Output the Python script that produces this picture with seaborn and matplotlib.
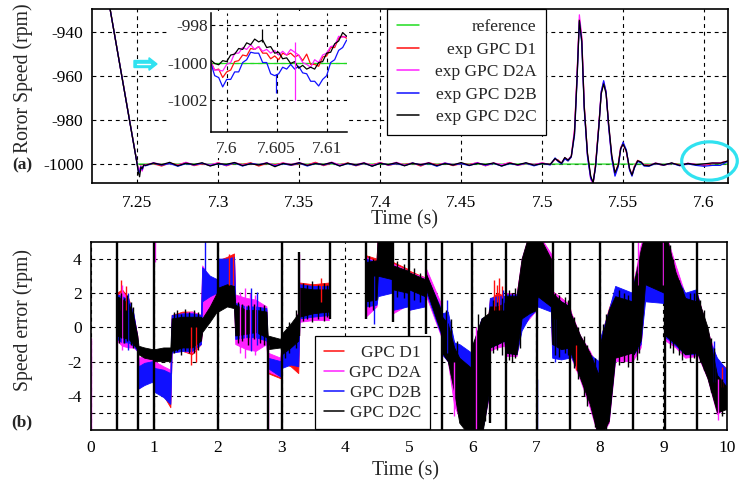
import numpy as np
import matplotlib
matplotlib.use("Agg")
import matplotlib.pyplot as plt
import seaborn as sns
from matplotlib.lines import Line2D
from matplotlib.patches import Rectangle, Ellipse, FancyArrow
from matplotlib.ticker import FuncFormatter

nan = float("nan")

# ---------------- (a) rotor speed around the -1000 rpm step ----------------
ref_t = [7.2222, 7.2500, 7.6146]
ref_speed = [-883.0, -1000.0, -1000.0]

t_a = [
    # ramp and settling
    7.2222, 7.2500, 7.2507, 7.2514, 7.2522, 7.2530, 7.2540,
    # steady state
    7.255, 7.260, 7.265, 7.270, 7.275, 7.280, 7.285, 7.290, 7.295, 7.300,
    7.305, 7.310, 7.315, 7.320, 7.325, 7.330, 7.335, 7.340, 7.345, 7.350,
    7.355, 7.360, 7.365, 7.370, 7.375, 7.380, 7.385, 7.390, 7.395, 7.400,
    7.405, 7.410, 7.415, 7.420, 7.425, 7.430, 7.435, 7.440, 7.445, 7.450,
    7.455, 7.460, 7.465, 7.470, 7.475, 7.480, 7.485, 7.490, 7.495, 7.500, 7.505,
    # load disturbance
    7.508, 7.510, 7.512, 7.514, 7.516, 7.518, 7.520, 7.5215, 7.523, 7.5245,
    7.526, 7.528, 7.530, 7.5315, 7.533, 7.535, 7.5365, 7.538, 7.5395, 7.541,
    7.543, 7.545, 7.547, 7.5485, 7.550, 7.552, 7.554, 7.5555, 7.557, 7.559,
    7.561, 7.563,
    # recovered
    7.566, 7.570, 7.575, 7.580, 7.585, 7.590, 7.595, 7.600, 7.605, 7.610, 7.6146,
]

speed_D1 = [
    -883.0, -1000.2, -1002.5, -1003.0, -1000.8, -1002.8, -1000.5,
    -1000.3, -999.8, -1000.9, -999.5, -1000.4, -999.3, -1000.7, -999.9, -1000.5, -999.4,
    -1000.8, -999.6, -1000.2, -999.4, -1000.9, -999.7, -1000.3, -999.5, -1000.6, -999.8,
    -1000.4, -999.2, -1000.7, -999.6, -1000.3, -999.5, -1000.8, -999.7, -1000.4, -999.3,
    -1000.6, -999.8, -1000.2, -999.5, -1000.9, -999.4, -1000.3, -999.6, -1000.7, -999.8,
    -1000.2, -999.4, -1000.8, -999.6, -1000.4, -999.3, -1000.6, -999.7, -1000.3, -999.5, -1000.2,
    -997.8, -998.2, -999.8, -997.4, -998.5, -996.8, -985.0, -961.0, -934.0, -943.0,
    -973.0, -995.5, -1006.0, -1008.5, -1000.0, -982.5, -967.5, -963.0, -967.0, -982.0,
    -996.5, -1004.5, -1000.0, -992.5, -990.5, -994.5, -1002.5, -1004.8, -1001.0, -998.3,
    -999.2, -1000.4,
    -1000.5, -999.8, -1000.6, -999.6, -1000.3, -999.9, -1000.2, -1000.6, -999.8, -999.5, -998.7,
]

speed_D2A = [
    -883.0, -1000.3, -1003.0, -1002.2, -1001.0, -1003.2, -1000.2,
    -1000.5, -999.4, -1000.2, -999.8, -1000.6, -999.2, -1000.4, -999.7, -1000.3, -999.5,
    -1000.6, -999.3, -1000.4, -999.8, -1000.2, -999.4, -1000.7, -999.5, -1000.1, -999.3,
    -1000.5, -999.6, -1000.3, -999.1, -1000.4, -999.7, -1000.2, -999.4, -1000.6, -999.5,
    -1000.3, -999.2, -1000.5, -999.7, -1000.1, -999.4, -1000.6, -999.5, -1000.2, -999.6,
    -1000.4, -999.3, -1000.7, -999.5, -1000.3, -999.4, -1000.5, -999.6, -1000.2, -999.5, -1000.3,
    -997.6, -998.8, -999.4, -997.2, -998.0, -996.3, -984.0, -960.0, -932.0, -942.0,
    -973.5, -996.0, -1007.0, -1009.0, -1000.5, -982.0, -967.0, -962.5, -967.5, -981.5,
    -997.0, -1005.0, -1000.8, -992.8, -990.8, -994.2, -1002.2, -1005.2, -1001.2, -998.6,
    -999.1, -1000.5,
    -1000.6, -999.5, -1000.3, -999.7, -1000.5, -999.6, -1000.1, -1000.2, -999.5, -999.4, -998.7,
]

speed_D2B = [
    -883.0, -1000.4, -1003.5, -1003.8, -1001.2, -1002.5, -1000.6,
    -1000.8, -999.6, -1000.5, -999.7, -1001.0, -999.8, -1000.4, -999.6, -1000.7, -999.9,
    -1000.5, -999.5, -1000.9, -999.7, -1000.3, -999.6, -1000.8, -999.9, -1000.5, -999.6,
    -1000.9, -999.7, -1000.4, -999.5, -1000.8, -999.8, -1000.6, -999.7, -1000.9, -999.6,
    -1000.4, -999.8, -1000.7, -999.5, -1000.5, -999.7, -1001.0, -999.6, -1000.4, -999.8,
    -1000.7, -999.6, -1000.5, -999.7, -1000.9, -999.8, -1000.4, -999.6, -1000.8, -999.7, -1000.4,
    -997.2, -998.9, -999.9, -997.6, -998.6, -996.8, -987.0, -963.0, -935.0, -945.0,
    -975.0, -996.5, -1006.5, -1008.2, -1001.5, -983.5, -967.0, -962.0, -967.2, -982.5,
    -997.5, -1005.5, -1001.2, -993.5, -990.0, -993.5, -1002.8, -1005.5, -1001.8, -998.8,
    -999.4, -1000.9,
    -1001.0, -999.8, -1000.5, -999.6, -1000.8, -999.9, -1000.6, -1001.0, -1000.6, -1000.6, -998.8,
]

speed_D2C = [
    -883.0, -1000.5, -1004.0, -1005.8, -1001.5, -1002.0, -1000.3,
    -1000.6, -999.5, -1000.3, -999.2, -1000.8, -999.6, -1000.2, -999.4, -1000.9, -999.8,
    -1000.1, -999.3, -1000.7, -999.9, -1000.4, -999.5, -1001.2, -999.7, -1000.3, -999.4,
    -1000.6, -999.8, -1000.2, -999.3, -1000.9, -999.6, -1000.4, -999.5, -1001.0, -999.7,
    -1000.2, -999.4, -1000.8, -999.6, -1000.3, -999.5, -1000.7, -999.8, -1000.4, -999.3,
    -1000.6, -999.7, -1000.2, -999.5, -1000.9, -999.6, -1000.3, -999.4, -1000.5, -999.8, -1000.1,
    -997.5, -998.6, -999.6, -997.0, -998.2, -996.5, -986.0, -962.0, -934.5, -944.0,
    -974.0, -995.0, -1005.5, -1008.5, -1001.0, -983.0, -968.0, -963.5, -968.0, -981.0,
    -996.0, -1004.0, -1000.5, -993.0, -991.0, -994.0, -1002.0, -1005.0, -1001.5, -998.5,
    -999.0, -1000.6,
    -1000.8, -999.6, -1000.4, -999.5, -1000.6, -999.7, -1000.3, -999.9, -999.5, -999.6, -998.6,
]

# zoomed window 7.598 - 7.612 s
t_zoom = [
    7.5984, 7.5988, 7.5992, 7.5996, 7.6000, 7.6004, 7.6008, 7.6012, 7.6016, 7.6020,
    7.6024, 7.6028, 7.6032, 7.6036, 7.6040, 7.6044, 7.6048, 7.6052, 7.6056, 7.6060,
    7.6064, 7.6068, 7.6072, 7.6076, 7.6080, 7.6084, 7.6088, 7.6092, 7.6096, 7.6100,
    7.6104, 7.6108, 7.6112, 7.6116, 7.6120,
]
zoom_ref = [-1000.0] * 35
zoom_D1 = [
    -999.95, -1000.4, -1000.35, -1000.8, -1000.5, -1000.4, -999.95, -999.9, -999.6, -999.65,
    -999.25, -999.3, -999.15, -999.5, -999.5, -999.8, -999.65, -999.85, -999.5, -999.6,
    -999.5, -999.7, -999.6, -999.9, -999.55, -1000.1, -1000.1, -1000.2, -999.7, -999.65,
    -999.2, -999.2, -998.7, -998.6, -998.7,
]
zoom_D2A = [
    -1000.0, -1000.4, -1000.4, -1000.45, -1000.1, -1000.0, -999.5, -999.5, -999.2, -999.3,
    -999.05, -999.3, -999.15, -999.4, -999.3, -999.5, -999.35, -999.6, -999.4, -999.6,
    -999.3, -999.45, -999.6, -1000.0, -1000.1, -1000.25, -999.85, -1000.0, -999.6, -999.5,
    -999.15, -999.1, -998.6, -998.65, -998.6,
]
zoom_D2B = [
    -1000.0, -1000.7, -1000.8, -1001.3, -1000.9, -1000.9, -1000.5, -1000.5, -1000.0, -999.85,
    -999.45, -999.5, -999.5, -1000.0, -1000.0, -1000.6, -1000.7, -1000.6, -1000.25, -1000.35,
    -1000.1, -1000.35, -1000.2, -1000.55, -1000.6, -1001.0, -1001.0, -1001.25, -1000.9, -1000.7,
    -1000.0, -999.85, -999.35, -999.2, -998.8,
]
zoom_D2C = [
    -999.86, -1000.05, -1000.12, -999.9, -999.95, -999.6, -999.55, -999.25, -999.3, -998.95,
    -999.05, -998.75, -998.9, -998.8, -999.2, -999.15, -999.5, -999.45, -999.8, -999.75,
    -1000.05, -999.95, -1000.3, -1000.15, -1000.35, -1000.25, -1000.35, -1000.0, -999.95, -999.5,
    -999.45, -999.0, -998.85, -998.4, -998.6,
]
# isolated samples in the zoomed window (time, low, high)
zoom_spike_D2A = ([7.6068], [-1002.0], [-998.9])
zoom_spike_D2B = ([7.6049], [-1001.65], [-1000.6])
zoom_spike_D2C = ([7.6035], [-998.9], [-998.2])

# ---------------- (b) speed error over the whole test ----------------
# envelope (min / max) of each error signal
t_err = [
    0.42, 0.50, 0.60, 0.68, 0.74,
    0.76, 0.85, 0.98,
    1.01, 1.15, 1.26,
    1.28, 1.45, 1.60, 1.74,
    1.76, 1.88, 1.99,
    2.01, 2.15, 2.26,
    2.28, 2.45, 2.60, 2.77,
    2.79, 2.99,
    3.01, 3.15, 3.27,
    3.29, 3.50, 3.75,
    4.00,
    4.33, 4.50, 4.52, 4.74,
    4.76, 4.99,
    5.01, 5.26,
    5.28, 5.51,
    5.53, 5.62, 5.72, 5.80, 5.99,
    6.01, 6.15, 6.26,
    6.28, 6.40, 6.51,
    6.53, 6.70, 6.78, 6.90, 7.01,
    7.03, 7.24,
    7.26, 7.40, 7.53,
    7.55, 7.70, 7.85, 7.99,
    8.01, 8.15, 8.25, 8.52,
    8.54, 8.65, 8.72, 9.02,
    9.04, 9.20, 9.35, 9.52,
    9.54, 9.70, 9.85, 10.0,
]

err_D2C_lo = [
    -0.5, -0.6, -0.7, -1.0, -1.3,
    -1.6, -1.8, -1.9,
    -2.0, -2.0, -2.0,
    -1.4, -1.2, -1.2, -0.8,
    -0.3, 0.3, 0.9,
    0.9, 1.2, 1.1,
    -0.5, -0.4, -0.3, -0.6,
    -1.3, -1.2,
    -1.6, -1.2, -0.8,
    0.6, 0.8, 0.9,
    nan,
    1.5, 1.6, 3.0, 2.8,
    2.2, 2.0,
    2.2, 1.8,
    2.2, -0.3,
    -1.5, -2.0, -3.8, -5.6, -6.5,
    -6.5, -6.5, -4.0,
    -1.2, -1.0, -0.8,
    -1.5, -1.6, 0.5, 0.8, 1.0,
    1.8, 1.2,
    -1.0, -1.3, -1.2,
    -1.5, -3.0, -4.5, -6.5,
    -6.5, -5.5, -1.8, -1.5,
    -1.6, -0.8, 2.5, 2.0,
    -0.5, -1.0, -1.6, -1.5,
    -1.5, -3.0, -5.0, -4.8,
]
err_D2C_hi = [
    1.8, 1.6, 1.4, 0.6, -0.5,
    -1.1, -1.2, -1.3,
    -1.3, -1.2, -1.2,
    0.5, 0.6, 0.6, 0.6,
    0.5, 1.2, 2.0,
    2.3, 2.5, 2.4,
    1.3, 1.0, 1.0, 0.9,
    -0.5, -0.7,
    -0.4, 0.2, 0.8,
    2.3, 2.2, 2.2,
    nan,
    3.8, 3.9, 5.5, 5.5,
    3.6, 3.3,
    3.2, 2.8,
    3.1, 1.0,
    0.6, 0.2, -1.2, -1.8, -2.4,
    -1.0, 0.5, 0.8,
    1.2, 1.2, 1.4,
    1.8, 1.8, 4.0, 5.5, 5.5,
    5.5, 4.0,
    2.0, 1.5, 1.2,
    0.8, -0.5, -1.5, -2.8,
    -1.0, 1.0, 1.8, 1.5,
    2.5, 4.5, 5.5, 5.5,
    5.5, 3.2, 1.7, 1.5,
    1.8, 0.0, -2.8, -3.5,
]

err_D2B_lo = [
    -0.7, -0.9, -0.9, -1.1, -1.4,
    -3.6, -3.4, -3.2,
    -3.8, -4.1, -4.5,
    -1.5, -1.4, -1.4, -1.0,
    1.5, 1.8, 2.0,
    2.2, 2.3, 2.2,
    -0.7, -0.6, -0.6, -0.8,
    -2.4, -2.9,
    -2.4, -2.2, -2.3,
    0.5, 0.6, 0.7,
    nan,
    1.2, 1.3, 1.8, 2.0,
    1.0, 1.2,
    1.0, 1.2,
    2.0, -0.4,
    -1.6, -2.0, -3.0, -3.2, -3.0,
    -6.5, -6.3, -4.0,
    -1.2, -1.0, -0.8,
    -1.5, -1.6, -0.2, 0.6, 1.0,
    1.2, 0.9,
    -1.8, -1.9, -1.8,
    -1.7, -2.8, -3.0, -3.3,
    -6.5, -5.3, -1.7, -1.5,
    -1.6, -1.0, 1.5, 1.4,
    -0.6, -1.1, -1.6, -1.6,
    -1.5, -2.8, -3.5, -4.0,
]
err_D2B_hi = [
    1.9, 1.8, 1.6, 0.8, -0.6,
    -2.3, -2.1, -2.0,
    -2.4, -2.5, -2.7,
    0.7, 0.8, 0.8, 0.7,
    3.5, 3.0, 2.8,
    4.0, 4.0, 4.1,
    1.4, 1.2, 1.2, 1.1,
    -1.8, -2.0,
    -1.0, -0.8, -0.6,
    2.5, 2.4, 2.4,
    nan,
    4.0, 3.8, 4.2, 4.5,
    2.6, 2.4,
    2.3, 2.0,
    3.0, 1.1,
    0.8, 0.9, -0.9, -1.0, -1.5,
    -1.1, 0.5, 0.7,
    1.7, 1.8, 1.8,
    1.9, 1.9, 3.0, 3.0, 3.0,
    2.4, 2.0,
    1.8, 1.5, 1.2,
    0.8, -0.9, -1.6, -2.0,
    -0.7, 1.0, 2.4, 2.0,
    2.6, 4.2, 3.0, 3.2,
    3.6, 3.0, 2.0, 2.2,
    1.9, -0.5, -1.8, -2.5,
]

err_D1_lo = [
    -0.6, -0.7, -0.8, -1.0, -1.3,
    -3.4, -3.2, -3.0,
    -3.6, -4.0, -4.7,
    -1.4, -1.4, -1.6, -1.0,
    0.2, 1.4, 1.8,
    1.8, 2.0, 1.8,
    -0.6, -0.5, -0.5, -0.7,
    -2.7, -3.0,
    -2.1, -2.3, -2.7,
    0.5, 0.5, 0.6,
    nan,
    1.3, 1.4, 2.6, 2.6,
    1.6, 1.7,
    1.4, 1.5,
    2.0, -0.4,
    -1.5, -2.0, -3.4, -3.5, -3.5,
    -6.5, -6.0, -3.8,
    -1.2, -1.0, -0.9,
    -1.5, -1.6, 0.3, 0.6, 1.0,
    1.4, 1.1,
    -1.4, -1.7, -1.8,
    -1.6, -2.8, -3.1, -3.4,
    -6.5, -5.3, -1.7, -1.7,
    -1.7, -1.0, 2.0, 1.8,
    -0.6, -1.1, -1.7, -1.6,
    -1.5, -2.9, -3.6, -3.5,
]
err_D1_hi = [
    2.0, 2.2, 1.7, 0.7, -0.5,
    -2.2, -2.0, -1.9,
    -2.2, -2.4, -2.6,
    0.7, 0.9, 0.9, 0.7,
    3.0, 2.8, 2.8,
    3.9, 4.1, 4.3,
    1.4, 1.2, 1.2, 1.0,
    -1.6, -1.9,
    -0.8, -0.5, -0.2,
    2.6, 2.5, 2.6,
    nan,
    4.2, 4.0, 5.5, 5.5,
    3.8, 3.4,
    3.3, 2.9,
    3.2, 1.2,
    0.7, 0.4, -1.0, -1.3, -2.0,
    -1.1, 0.4, 0.8,
    1.6, 2.0, 1.8,
    2.0, 1.9, 3.8, 5.5, 5.5,
    5.5, 4.2,
    2.1, 1.7, 1.3,
    0.9, -0.6, -1.5, -2.2,
    -0.8, 1.1, 2.1, 1.8,
    2.7, 4.5, 5.5, 5.5,
    5.5, 3.3, 1.9, 1.9,
    1.9, -0.3, -2.0, -2.4,
]

err_D2A_lo = [
    -0.8, -1.1, -1.2, -1.2, -1.4,
    -3.6, -3.3, -3.1,
    -3.4, -3.9, -4.4,
    -1.5, -1.4, -1.5, -1.0,
    0.0, 1.2, 1.6,
    1.6, 1.8, 1.6,
    -1.0, -1.3, -1.4, -1.0,
    -2.6, -2.9,
    -2.2, -2.0, -2.0,
    0.3, 0.4, 0.4,
    nan,
    0.6, 1.2, 2.5, 2.4,
    0.8, 1.3,
    1.0, 1.3,
    1.8, -0.5,
    -1.6, -2.0, -4.6, -5.3, -6.5,
    -6.5, -6.2, -4.2,
    -1.4, -1.2, -1.1,
    -1.7, -1.7, 0.0, 0.5, 1.0,
    1.3, 1.0,
    -1.5, -1.8, -1.6,
    -1.7, -3.1, -4.7, -6.5,
    -6.5, -5.6, -2.0, -2.0,
    -1.9, -1.2, 2.2, 1.9,
    -0.8, -1.2, -1.8, -1.7,
    -1.6, -3.0, -5.1, -4.7,
]
err_D2A_hi = [
    1.8, 2.1, 1.6, 0.7, -0.5,
    -1.8, -1.7, -1.8,
    -2.0, -2.3, -2.5,
    0.6, 0.8, 0.9, 0.7,
    3.6, 2.9, 2.6,
    3.8, 3.9, 4.1,
    1.9, 1.7, 1.6, 1.2,
    -1.5, -1.8,
    -0.6, -0.3, 0.9,
    2.4, 2.4, 2.3,
    nan,
    4.1, 3.8, 5.5, 5.5,
    3.7, 3.3,
    3.2, 2.9,
    3.4, 1.4,
    0.7, 0.5, -1.0, -1.5, -2.2,
    -1.2, 0.5, 0.6,
    1.5, 1.6, 1.7,
    2.0, 1.9, 4.0, 5.5, 5.5,
    5.5, 4.3,
    2.1, 1.7, 1.3,
    0.9, -0.5, -1.4, -2.5,
    -0.9, 1.0, 2.0, 1.7,
    2.6, 4.8, 5.5, 5.5,
    5.5, 3.6, 1.9, 1.8,
    1.9, -0.2, -1.9, -2.5,
]

# transients at the reference changes (time, low, high)
step_t = [0.41, 0.75, 1.00, 2.00, 2.78, 3.00, 3.27, 3.76, 4.32, 4.75, 5.01, 5.27,
          5.52, 6.00, 6.27, 6.52, 7.02, 7.26, 7.54, 8.00, 8.53, 9.03, 9.53]
step_lo = [-6.5, -6.5, -6.5, -6.5, -6.5, -6.5, -0.5, 0.5, 0.5, 0.3, -6.5, -0.4,
           -6.5, -6.5, -5.6, -6.5, -6.5, 1.5, -6.5, -6.5, -6.5, -6.5, -6.5]
step_hi = [5.5, -1.2, 5.5, 5.5, -0.8, 5.5, 4.4, 5.5, 5.5, 5.5, 5.5, 5.5,
           5.5, 5.5, -0.4, 5.5, 5.5, 5.5, 5.5, 5.5, 5.5, 5.5, 5.5]

# individual error peaks outside the envelopes (time, low, high)
peak_D2C = (
    [0.44, 0.47, 0.53, 0.57, 0.63, 0.66, 1.31, 1.36, 1.42, 1.49, 1.55, 1.63, 1.69,
     2.31, 2.38, 2.47, 2.56, 2.66, 2.72, 3.05, 3.12, 3.22, 3.33, 3.40, 3.48, 3.58,
     3.66, 3.72, 4.38, 4.44, 4.82, 4.92, 5.08, 5.18, 5.58, 5.66, 5.76, 6.08, 6.20,
     6.32, 6.38, 6.46, 6.57, 6.62, 6.67, 6.74, 7.30, 7.36, 7.45, 7.50, 7.60, 7.66,
     7.75, 7.80, 7.92, 8.05, 8.10, 8.30, 8.38, 8.45, 8.58, 8.62, 9.10, 9.15, 9.25,
     9.30, 9.42, 9.48, 9.58, 9.64, 9.75, 9.80, 9.92],
    [-0.9, -0.6, -0.9, -0.8, -1.0, -1.2, -1.5, -1.4, -1.6, -1.4, -1.5, -1.5, -1.3,
     -0.9, -0.8, -1.0, -0.7, -0.9, -1.0, -1.8, -1.5, -1.2, 0.4, 0.5, 0.3, 0.5,
     0.4, 0.6, 1.2, 1.0, 1.8, 1.7, 1.6, 1.5, -1.8, -2.8, -4.5, -6.5, -5.5,
     -1.5, -1.3, -1.6, -1.9, -2.0, -1.8, -1.2, -1.6, -1.7, -1.5, -1.6, -2.4, -3.0,
     -4.0, -4.6, -5.8, -6.5, -6.2, -2.2, -2.0, -2.3, -1.9, -1.5, -1.2, -1.5, -1.6,
     -1.9, -2.0, -1.8, -2.0, -2.5, -3.8, -4.2, -5.2],
    [1.8, 2.0, 1.7, 1.9, 1.5, 1.2, 0.9, 1.0, 0.8, 1.1, 0.9, 1.0, 0.9,
     1.5, 1.4, 1.3, 1.4, 1.2, 1.3, -0.2, 0.3, 1.0, 2.6, 2.5, 2.7, 2.5,
     2.6, 2.5, 4.2, 4.0, 3.9, 3.7, 3.5, 3.2, 1.0, 0.5, -0.8, 0.8, 1.2,
     1.6, 1.5, 1.7, 2.2, 2.0, 2.3, 3.0, 2.0, 1.9, 1.8, 1.6, 0.6, 0.0,
     -0.5, -1.0, -1.8, 0.2, 0.8, 2.2, 2.0, 1.9, 3.2, 4.0, 4.8, 4.0, 2.8,
     2.3, 2.0, 2.0, 1.6, 1.0, -0.6, -1.2, -3.0],
)
peak_D1 = (
    [0.47, 0.56, 1.58, 1.66, 2.18, 2.23, 3.62, 6.34, 6.38, 6.42, 6.46, 7.62, 9.92],
    [1.0, 1.0, -2.2, -2.0, 2.5, 2.5, 1.5, 1.0, 1.0, 1.0, 1.0, -2.5, -3.5],
    [2.8, 2.4, 0.0, 0.0, 4.3, 4.2, 2.9, 2.8, 2.5, 2.9, 2.4, -1.0, -2.3],
)
peak_D2A = (
    [0.0, 0.50, 1.01, 2.34, 2.42, 2.50, 2.58, 2.78, 3.27, 5.71, 6.06, 8.60, 9.00, 9.86],
    [-6.5, -1.3, 3.8, -1.5, -1.8, -1.2, -1.6, -6.5, 0.5, -5.2, -6.5, 2.5, 2.5, -5.4],
    [-0.6, 2.5, 5.5, 2.1, 2.3, 2.0, 1.9, -1.0, 4.3, -2.0, 0.0, 5.0, 5.5, -3.0],
)
peak_D2B = (
    [0.58, 1.79, 2.52, 2.62, 4.46, 5.60, 6.48, 7.01, 7.30, 9.80],
    [-1.3, 2.0, -1.4, -1.0, 0.2, -1.5, 1.0, -6.5, -2.0, -3.2],
    [2.0, 5.5, 2.3, 2.1, 3.0, 1.6, 2.2, -3.0, 0.5, -0.8],
)

# ---------------- styling ----------------
GREEN, RED, MAGENTA, BLUE, BLACK = "#1fdc1f", "#ff1010", "#ff20ff", "#1010ff", "#000000"
CYAN = "#30e2f0"
GRID = dict(color="black", linestyle=(0, (3.5, 3.5)), linewidth=0.8)
FS = 12.5
LABEL_FS = 14.2

sns.set_theme(style="white")
plt.rcParams["font.family"] = ["Liberation Serif", "DejaVu Serif"]
plt.rcParams["axes.unicode_minus"] = False
plt.rcParams["font.size"] = FS

fig = plt.figure(figsize=(7.39, 4.83), dpi=100)
ax_a = fig.add_axes([0.1249, 0.6217, 0.8598, 0.359])
ax_b = fig.add_axes([0.1227, 0.1097, 0.8611, 0.3893])
ax_z = fig.add_axes([0.2855, 0.7273, 0.184, 0.2457], zorder=3)

fmt = FuncFormatter(lambda v, p: f"{v:g}")

# ---- panel (a)
sns.lineplot(x=ref_t, y=ref_speed, ax=ax_a, color=GREEN, lw=0.9, sort=False)
for y, c in [(speed_D1, RED), (speed_D2A, MAGENTA), (speed_D2B, BLUE), (speed_D2C, BLACK)]:
    sns.lineplot(x=t_a, y=y, ax=ax_a, color=c, lw=0.9, sort=False)
ax_a.set_xlim(7.2222, 7.6146)
ax_a.set_ylim(-1008.5, -929.5)
ax_a.set_xticks([7.25, 7.3, 7.35, 7.4, 7.45, 7.5, 7.55, 7.6])
ax_a.set_yticks([-1000, -980, -960, -940])
ax_a.xaxis.set_major_formatter(fmt)
ax_a.yaxis.set_major_formatter(fmt)
ax_a.grid(True, **GRID)
ax_a.set_axisbelow(True)
ax_a.set_xlabel("Time (s)", fontsize=LABEL_FS)
ax_a.set_ylabel("Roror Speed (rpm)", fontsize=LABEL_FS)
ax_a.xaxis.set_label_coords(0.492, -0.158)
ax_a.yaxis.set_label_coords(-0.093, 0.601)

handles_a = [Line2D([], [], color=c, lw=1.1) for c in (GREEN, RED, MAGENTA, BLUE, BLACK)]
leg_a = ax_a.legend(handles_a, ["reference", "exp GPC D1", "exp GPC D2A", "exp GPC D2B", "exp GPC D2C"],
                    loc="upper left", bbox_to_anchor=(0.4638, 1.0), borderaxespad=0,
                    frameon=True, fancybox=False, framealpha=1, edgecolor="black",
                    handlelength=1.3, handletextpad=0.9, labelspacing=0.37,
                    borderpad=0.55, fontsize=FS)
leg_a.get_frame().set_linewidth(0.9)

# ---- zoomed window
sns.lineplot(x=t_zoom, y=zoom_ref, ax=ax_z, color=GREEN, lw=0.9, sort=False)
for y, c in [(zoom_D1, RED), (zoom_D2A, MAGENTA), (zoom_D2B, BLUE), (zoom_D2C, BLACK)]:
    sns.lineplot(x=t_zoom, y=y, ax=ax_z, color=c, lw=0.9, sort=False)
for (tt, lo, hi), c in [(zoom_spike_D2A, MAGENTA), (zoom_spike_D2B, BLUE), (zoom_spike_D2C, BLACK)]:
    ax_z.vlines(tt, lo, hi, color=c, lw=0.9)
ax_z.set_xlim(7.59843, 7.61203)
ax_z.set_ylim(-1003.69, -997.36)
ax_z.set_xticks([7.6, 7.605, 7.61])
ax_z.set_yticks([-1002, -1000, -998])
ax_z.xaxis.set_major_formatter(fmt)
ax_z.yaxis.set_major_formatter(fmt)
ax_z.grid(True, **GRID)
ax_z.set_axisbelow(True)
ax_z.set_xlabel("")
ax_z.set_ylabel("")
for s in ("top", "right"):
    ax_z.spines[s].set_visible(False)
for s in ("left", "bottom"):
    ax_z.spines[s].set_color("black")
    ax_z.spines[s].set_linewidth(1.1)
ax_z.tick_params(axis="x", length=0, pad=7, labelsize=FS)
ax_z.tick_params(axis="y", length=0, pad=2, labelsize=FS)

# white backing under the zoomed window
fig.add_artist(Rectangle((167 / 739, 1 - 158 / 483), 180 / 739, 147 / 483,
                         transform=fig.transFigure, facecolor="white", edgecolor="none", zorder=1))

# ---- panel (b)
for lo, hi, c in [(err_D1_lo, err_D1_hi, RED), (err_D2A_lo, err_D2A_hi, MAGENTA),
                  (err_D2B_lo, err_D2B_hi, BLUE)]:
    ax_b.fill_between(t_err, lo, hi, color=c, lw=0.6, edgecolor=c)
for (tt, lo, hi), c in [(peak_D1, RED), (peak_D2A, MAGENTA), (peak_D2B, BLUE)]:
    ax_b.vlines(tt, lo, hi, color=c, lw=1.0)
ax_b.fill_between(t_err, err_D2C_lo, err_D2C_hi, color=BLACK, lw=0.6, edgecolor=BLACK)
ax_b.vlines(peak_D2C[0], peak_D2C[1], peak_D2C[2], color=BLACK, lw=1.0)
ax_b.vlines(step_t, step_lo, step_hi, color=BLACK, lw=1.7)
ax_b.set_xlim(0, 10)
ax_b.set_ylim(-6, 5)
ax_b.set_xticks(range(0, 11))
ax_b.set_yticks([-4, -2, 0, 2, 4])
ax_b.set_yticks([-5], minor=True)
ax_b.grid(True, which="both", **GRID)
ax_b.set_axisbelow(True)
ax_b.set_xlabel("Time (s)", fontsize=LABEL_FS)
ax_b.set_ylabel("Speed error (rpm)", fontsize=LABEL_FS)
ax_b.xaxis.set_label_coords(0.495, -0.165)
ax_b.yaxis.set_label_coords(-0.0902, 0.585)

handles_b = [Line2D([], [], color=c, lw=1.1) for c in (RED, MAGENTA, BLUE, BLACK)]
leg_b = ax_b.legend(handles_b, ["GPC D1", "GPC D2A", "GPC D2B", "GPC D2C"],
                    loc="upper left", bbox_to_anchor=(0.3525, 0.5), borderaxespad=0,
                    frameon=True, fancybox=False, framealpha=1, edgecolor="black",
                    handlelength=1.15, handletextpad=0.3, labelspacing=0.22,
                    borderpad=0.5, fontsize=FS)
leg_b.get_frame().set_linewidth(0.9)

for ax in (ax_a, ax_b):
    for s in ax.spines.values():
        s.set_color("black")
        s.set_linewidth(1.2)
        s.set_visible(True)
    ax.tick_params(axis="both", which="both", length=0, labelsize=FS, colors="black")
ax_a.tick_params(axis="x", pad=9)
ax_a.tick_params(axis="y", pad=6.5)
ax_b.tick_params(axis="x", pad=7)
ax_b.tick_params(axis="y", pad=6.5)

fig.text(22 / 739, 1 - 165 / 483, "(a)", ha="center", va="center", fontsize=FS, fontweight="bold")
fig.text(22 / 739, 1 - 422 / 483, "(b)", ha="center", va="center", fontsize=FS, fontweight="bold")

# highlight marks
fig.add_artist(FancyArrow(1.34, 4.19, 0.23, 0.0, width=0.07, head_width=0.125, head_length=0.08,
                          length_includes_head=True, color=CYAN, transform=fig.dpi_scale_trans, zorder=5))
fig.add_artist(Line2D([1.37, 1.50], [4.19, 4.19], color="white", lw=1.0,
                      transform=fig.dpi_scale_trans, zorder=6))
fig.add_artist(Ellipse((7.095, 3.22), 0.556, 0.383, fill=False, edgecolor=CYAN, lw=2.3,
                       transform=fig.dpi_scale_trans, zorder=5))

# right-justify legend labels
fig.canvas.draw()
renderer = fig.canvas.get_renderer()
for leg in (leg_a, leg_b):
    widths = [t.get_window_extent(renderer).width for t in leg.get_texts()]
    w = max(widths)
    for t, wi in zip(leg.get_texts(), widths):
        t.set_position((w - wi, 0))

fig.savefig("out.png", dpi=100)
